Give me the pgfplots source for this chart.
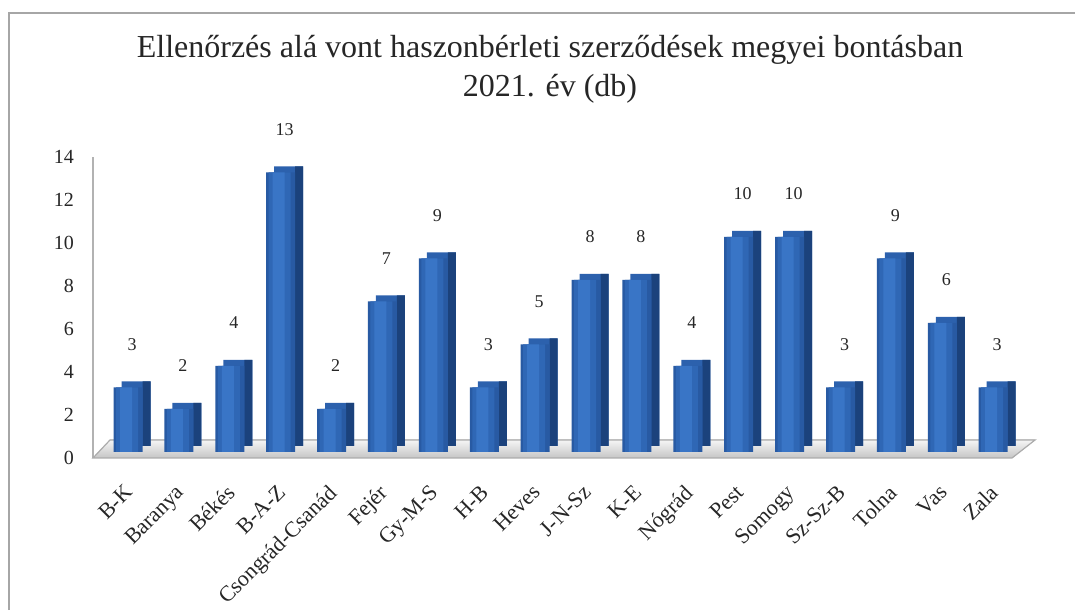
\documentclass[border=0pt]{standalone}
\usepackage{fontspec}
\setmainfont{Liberation Serif}
\usepackage{pgfplots}
\pgfplotsset{compat=1.18}
\definecolor{frontE}{HTML}{285AA3}
\definecolor{frontA}{HTML}{2F67B5}
\definecolor{frontM}{HTML}{3975C6}
\definecolor{topc}{HTML}{2C61AD}
\definecolor{sidec}{HTML}{1B427C}
\begin{document}
\begin{tikzpicture}
\pgfplotstableread{
x y
0 3
1 2
2 4
3 13
4 2
5 7
6 9
7 3
8 5
9 8
10 8
11 4
12 10
13 10
14 3
15 9
16 6
17 3
}\datatable
\begin{axis}[
  at={(46.5pt,76pt)}, anchor=south west,
  scale only axis, width=459.5pt, height=150.5pt,
  xmin=-0.688, xmax=17.37, ymin=0, ymax=14,
  ytick={0,2,...,14},
  xtick={0,...,17},
  xticklabels={B-K,Baranya,Békés,B-A-Z,Csongrád-Csanád,Fejér,Gy-M-S,H-B,Heves,J-N-Sz,K-E,Nógrád,Pest,Somogy,Sz-Sz-B,Tolna,Vas,Zala},
  x tick label style={rotate=45, anchor=north east, xshift=-7pt, yshift=-4pt, font=\fontsize{11}{13}\selectfont, text=black!85},
  y tick label style={font=\fontsize{10}{12}\selectfont, xshift=-6pt, text=black!85},
  /pgf/number format/assume math mode=true,
  major tick length=0pt,
  axis x line*=bottom, axis y line*=left,
  x axis line style={draw=none},
  y axis line style={draw=gray!60, line width=0.7pt},
  clip=false,
  ybar, bar width=14.5pt,
]
\fill[top color=gray!8, bottom color=gray!45, draw=gray!65, line width=0.6pt]
  (axis cs:-0.688,0) -- (axis cs:17.37,0) -- ([shift={(11.5pt,9pt)}]axis cs:17.37,0)
  -- ([shift={(8.5pt,9pt)}]axis cs:-0.688,0) -- cycle;
% top face (visible strip above the front face)
\addplot[bar shift=4pt, bar width=14.5pt, yshift=6pt, draw=none, fill=topc] table[x=x,y=y] {\datatable};
% side face
\addplot[bar shift=9.25pt, bar width=4pt, yshift=6pt, draw=none, fill=sidec] table[x=x,y=y] {\datatable};
% front face, layered for a soft horizontal gradient
\addplot[bar shift=0pt, bar width=14.5pt, yshift=3pt, draw=none, fill=frontE] table[x=x,y=y] {\datatable};
\addplot[bar shift=-0.5pt, bar width=11pt, yshift=3pt, draw=none, fill=frontA] table[x=x,y=y] {\datatable};
\addplot[bar shift=-1pt, bar width=6pt, yshift=3pt, draw=none, fill=frontM] table[x=x,y=y] {\datatable};
% value labels
\addplot[bar shift=2pt, draw=none, fill=none, nodes near coords,
  every node near coord/.append style={anchor=center, yshift=24.5pt, font=\fontsize{9}{11}\selectfont, text=black!85},
  /pgf/number format/assume math mode=true] table[x=x,y=y] {\datatable};
\end{axis}
\node[anchor=base, font=\fontsize{16}{19}\selectfont, text=black!85] at (275pt,276pt) {Ellenőrzés alá vont haszonbérleti szerződések megyei bontásban};
\node[anchor=base, font=\fontsize{16}{19}\selectfont, text=black!85] at (275pt,256.5pt) {2021. év (db)};
\draw[gray!70, line width=1pt] (4.5pt,0pt) -- (4.5pt,298.5pt) -- (537.5pt,298.5pt);
\pgfresetboundingbox
\useasboundingbox (0pt,0pt) rectangle (537.5pt,305pt);
\end{tikzpicture}
\end{document}
